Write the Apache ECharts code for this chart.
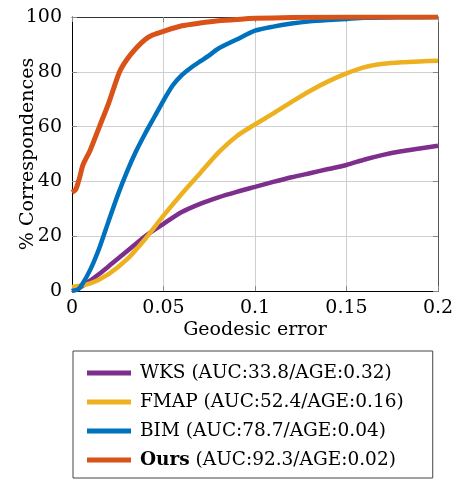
<!DOCTYPE html>
<html>
<head>
<meta charset="utf-8">
<script src="https://cdn.jsdelivr.net/npm/echarts@6/dist/echarts.min.js"></script>
<style>html,body{margin:0;padding:0;background:#fff;}#c{width:455px;height:480px;}</style>
</head>
<body>
<div id="c"></div>
<script>
const seriesNames = ['WKS', 'FMAP', 'BIM', 'Ours'];
const legendExtras = ['(AUC:33.8/AGE:0.32)', '(AUC:52.4/AGE:0.16)', '(AUC:78.7/AGE:0.04)', '(AUC:92.3/AGE:0.02)'];
const colors = ['#7E2F8E', '#EDB120', '#0072BD', '#D95319'];
const xTicks = [0, 0.05, 0.1, 0.15, 0.2];
const yTicks = [0, 20, 40, 60, 80, 100];

const wksX = [0, 0.005, 0.01, 0.015, 0.02, 0.03, 0.04, 0.05, 0.06, 0.07, 0.08, 0.09, 0.1, 0.11, 0.12, 0.13, 0.14, 0.15, 0.16, 0.17, 0.18, 0.19, 0.2];
const wksY = [0, 1.5, 3.8, 6.3, 9, 14.5, 20, 24.5, 28.8, 31.8, 34.2, 36.2, 38, 39.8, 41.5, 43, 44.5, 46, 48, 49.7, 51, 52, 53];

const fmapX = [0, 0.01, 0.02, 0.03, 0.04, 0.05, 0.06, 0.07, 0.08, 0.09, 0.1, 0.11, 0.12, 0.13, 0.14, 0.15, 0.16, 0.17, 0.18, 0.19, 0.2];
const fmapY = [1.5, 2.8, 6.2, 11.5, 19, 27.5, 35.5, 43, 50.5, 56.5, 60.8, 64.8, 69, 73, 76.5, 79.4, 81.7, 82.9, 83.5, 83.8, 84];

const bimX = [0, 0.003, 0.005, 0.01, 0.015, 0.02, 0.025, 0.03, 0.035, 0.04, 0.045, 0.05, 0.055, 0.06, 0.065, 0.07, 0.075, 0.08, 0.09, 0.1, 0.11, 0.12, 0.13, 0.14, 0.15, 0.16, 0.18, 0.2];
const bimY = [0, 0.5, 1.8, 7.8, 15.8, 25.5, 35, 43.5, 51, 57.5, 63.5, 69.5, 75, 78.8, 81.5, 83.8, 86, 88.5, 91.8, 95, 96.5, 97.6, 98.4, 98.9, 99.3, 99.7, 99.9, 100];

const oursX = [0, 0.002, 0.004, 0.006, 0.01, 0.015, 0.02, 0.026, 0.03, 0.035, 0.04, 0.044, 0.05, 0.06, 0.07, 0.08, 0.09, 0.1, 0.12, 0.15, 0.2];
const oursY = [36, 37, 41, 46, 51.5, 60, 68.5, 80, 84.5, 88.6, 91.8, 93.4, 94.8, 96.8, 97.8, 98.6, 99.1, 99.5, 99.8, 100, 100];

const xs = [wksX, fmapX, bimX, oursX];
const ys = [wksY, fmapY, bimY, oursY];
const widths = [4.5, 4.5, 4.5, 5];

const FONT = 'DejaVu Serif';
const chart = echarts.init(document.getElementById('c'), null, {renderer: 'canvas'});

const series = seriesNames.map((n, i) => ({
  name: n,
  type: 'line',
  xAxisIndex: 0, yAxisIndex: 0,
  data: xs[i].map((x, j) => [x, ys[i][j]]),
  showSymbol: false,
  smooth: 0.25,
  clip: true,
  lineStyle: {color: colors[i], width: widths[i]},
  itemStyle: {color: colors[i]},
  z: 2 + i
}));

const fmt = v => {
  const t = xTicks.find(a => Math.abs(a - v) < 1e-9);
  return t === undefined ? '' : String(t);
};

chart.setOption({
  animation: false,
  backgroundColor: '#fff',
  grid: {left: 72, right: 17, top: 17, bottom: 189, containLabel: false, outerBoundsMode: 'none'},
  xAxis: [{
    type: 'value', min: 0, max: 0.2, interval: 0.05,
    name: 'Geodesic error', nameLocation: 'middle', nameGap: 30, nameMoveOverlap: false,
    nameTextStyle: {fontFamily: FONT, fontSize: 19, color: '#000'},
    axisLine: {show: true, onZero: false, lineStyle: {color: '#000', width: 1}},
    axisTick: {show: true, inside: true, length: 5, lineStyle: {color: '#888'}},
    axisLabel: {fontFamily: FONT, fontSize: 19, color: '#000', margin: 8, formatter: fmt},
    splitLine: {show: true, lineStyle: {color: '#cfcfcf', width: 1}}
  }, {
    type: 'value', min: 0, max: 0.2, interval: 0.05, position: 'top',
    axisLine: {show: true, onZero: false, lineStyle: {color: '#333', width: 1}},
    axisTick: {show: true, inside: true, length: 5, lineStyle: {color: '#888'}},
    axisLabel: {show: false}, splitLine: {show: false}
  }],
  yAxis: [{
    type: 'value', min: 0, max: 100, interval: 20,
    name: '% Correspondences', nameLocation: 'middle', nameGap: 34, nameMoveOverlap: false,
    nameTextStyle: {fontFamily: FONT, fontSize: 19, color: '#000'},
    axisLine: {show: true, onZero: false, lineStyle: {color: '#000', width: 1}},
    axisTick: {show: true, inside: true, length: 5, lineStyle: {color: '#888'}},
    axisLabel: {fontFamily: FONT, fontSize: 19, color: '#000', margin: 10},
    splitLine: {show: true, lineStyle: {color: '#cfcfcf', width: 1}}
  }, {
    type: 'value', min: 0, max: 100, interval: 20, position: 'right',
    axisLine: {show: true, onZero: false, lineStyle: {color: '#555', width: 1}},
    axisTick: {show: true, inside: true, length: 5, lineStyle: {color: '#888'}},
    axisLabel: {show: false}, splitLine: {show: false}
  }],
  legend: {
    orient: 'vertical',
    left: 73, top: 351,
    padding: [11, 29, 7, 14],
    itemGap: 7,
    itemWidth: 44, itemHeight: 5,
    icon: 'rect',
    borderColor: '#444', borderWidth: 1,
    backgroundColor: '#fff',
    data: seriesNames,
    formatter: name => {
      const i = seriesNames.indexOf(name);
      return name === 'Ours' ? '{b|Ours} ' + legendExtras[i] : name + ' ' + legendExtras[i];
    },
    textStyle: {
      fontFamily: FONT, fontSize: 18.5, color: '#000', lineHeight: 22, padding: [0, 0, 0, 4],
      rich: {b: {fontFamily: FONT, fontSize: 18.5, fontWeight: 'bold', color: '#000', lineHeight: 22}}
    }
  },
  series: series
});
</script>
</body>
</html>
